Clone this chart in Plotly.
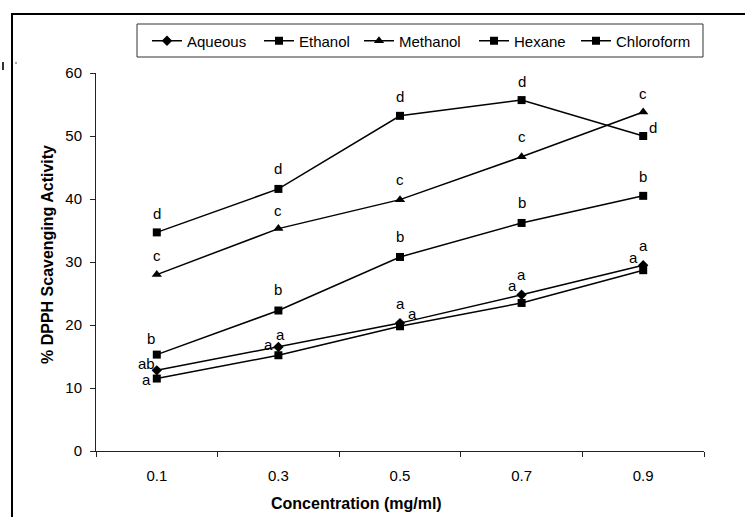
import plotly.graph_objects as go

concentrations = ["0.1", "0.3", "0.5", "0.7", "0.9"]

aqueous = [12.8, 16.5, 20.3, 24.8, 29.5]
ethanol = [11.5, 15.2, 19.8, 23.5, 28.7]
methanol = [28.0, 35.3, 39.9, 46.7, 53.8]
hexane = [15.3, 22.3, 30.8, 36.2, 40.5]
chloroform = [34.7, 41.6, 53.2, 55.7, 50.0]

aqueous_letters = ["ab", "a", "a", "a", "a"]
ethanol_letters = ["a", "a", "a", "a", "a"]
methanol_letters = ["c", "c", "c", "c", "c"]
hexane_letters = ["b", "b", "b", "b", "b"]
chloroform_letters = ["d", "d", "d", "d", "d"]

y_ticks = [0, 10, 20, 30, 40, 50, 60]

x_title = "Concentration (mg/ml)"
y_title = "% DPPH Scavenging Activity"

# label offsets in pixels (style, not data)
aqueous_off = [(-10, 7), (2, 13), (0, 20), (0, 20), (0, 20)]
ethanol_off = [(-10, -1), (-10, 11), (12, 13), (-9, 17), (-10, 13)]
methanol_off = [(0, 19), (0, 18), (0, 20), (0, 20), (0, 19)]
hexane_off = [(-6, 16), (0, 21), (0, 20), (0, 20), (0, 19)]
chloroform_off = [(0, 19), (0, 20), (0, 19), (0, 19), (10, 9)]

# legend entry left positions in pixels (style)
legend_left_px = [147, 259, 359, 474, 576]

FONT = "Liberation Sans, Arial, sans-serif"

series = [
    ("Aqueous", aqueous, "diamond", 8, aqueous_letters, aqueous_off),
    ("Ethanol", ethanol, "square", 8, ethanol_letters, ethanol_off),
    ("Methanol", methanol, "triangle-up", 9, methanol_letters, methanol_off),
    ("Hexane", hexane, "square", 8, hexane_letters, hexane_off),
    ("Chloroform", chloroform, "square", 8, chloroform_letters, chloroform_off),
]

# plot area in pixels: x 96..704, y 73..451
W, H = 745, 517
L, R, T, B = 96, 41, 73, 66
pw, ph = W - L - R, H - T - B

def px(xp):
    return (xp - L) / pw

def py(yp):
    return (H - B - yp) / ph

fig = go.Figure()
annotations = []
legends = {}
for k, (name, vals, sym, size, letters, offs) in enumerate(series):
    lname = "legend" if k == 0 else "legend%d" % (k + 1)
    fig.add_trace(go.Scatter(
        x=concentrations, y=vals, name=name, mode="lines+markers",
        line=dict(color="black", width=1.5),
        marker=dict(symbol=sym, size=size, color="black"),
        legend=lname,
    ))
    legends[lname] = dict(
        orientation="h", x=px(legend_left_px[k]), y=py(41),
        xanchor="left", yanchor="middle",
        borderwidth=0, bgcolor="rgba(0,0,0,0)",
        font=dict(family=FONT, size=15, color="black"),
        itemwidth=30,
    )
    for i, (yv, lt, (dx, dy)) in enumerate(zip(vals, letters, offs)):
        annotations.append(dict(
            x=i, y=yv, xref="x", yref="y", text=lt, showarrow=False,
            xshift=dx, yshift=dy, font=dict(family=FONT, size=15, color="black"),
        ))

annotations.append(dict(
    x=px(356), y=py(503), xref="paper", yref="paper", showarrow=False,
    text="<b>" + x_title + "</b>", xanchor="center", yanchor="middle",
    font=dict(family=FONT, size=16, color="black"),
))
annotations.append(dict(
    x=px(47), y=py(255), xref="paper", yref="paper", showarrow=False,
    text="<b>" + y_title + "</b>", textangle=-90, xanchor="center", yanchor="middle",
    font=dict(family=FONT, size=16, color="black"),
))

shapes = [
    # outer chart frame
    dict(type="rect", xref="paper", yref="paper",
         x0=px(12), x1=px(760), y0=py(530), y1=py(14),
         line=dict(color="black", width=2), fillcolor="rgba(0,0,0,0)"),
    # legend box
    dict(type="rect", xref="paper", yref="paper",
         x0=px(137), x1=px(703), y0=py(57), y1=py(24),
         line=dict(color="#333333", width=1), fillcolor="rgba(0,0,0,0)"),
    dict(type="line", xref="paper", yref="paper",
         x0=px(3), x1=px(3), y0=py(62), y1=py(70),
         line=dict(color="#333333", width=2)),
    dict(type="line", xref="paper", yref="paper",
         x0=px(16), x1=px(16), y0=py(62), y1=py(64),
         line=dict(color="#555555", width=1)),
]

fig.update_layout(
    width=W, height=H,
    margin=dict(l=L, r=R, t=T, b=B, autoexpand=False),
    paper_bgcolor="white", plot_bgcolor="white",
    font=dict(family=FONT, size=15, color="black"),
    showlegend=True,
    annotations=annotations,
    shapes=shapes,
    xaxis=dict(
        type="category", range=[-0.5, 4.5], automargin=False,
        showline=True, linecolor="#222222", linewidth=1,
        ticks="outside", ticklen=5, tickcolor="#222222", tickson="boundaries",
        showgrid=False, zeroline=False,
        tickfont=dict(family=FONT, size=15, color="black"),
        ticklabelstandoff=11,
    ),
    yaxis=dict(
        range=[0, 60], tickvals=y_ticks, automargin=False,
        showline=True, linecolor="#222222", linewidth=1,
        ticks="outside", ticklen=5, tickcolor="#222222",
        showgrid=False, zeroline=False,
        tickfont=dict(family=FONT, size=15, color="black"),
        ticklabelstandoff=5,
    ),
    **legends,
)

fig.write_html("out.html", config={"displayModeBar": False},
               post_script="document.body.style.margin='0px';")
